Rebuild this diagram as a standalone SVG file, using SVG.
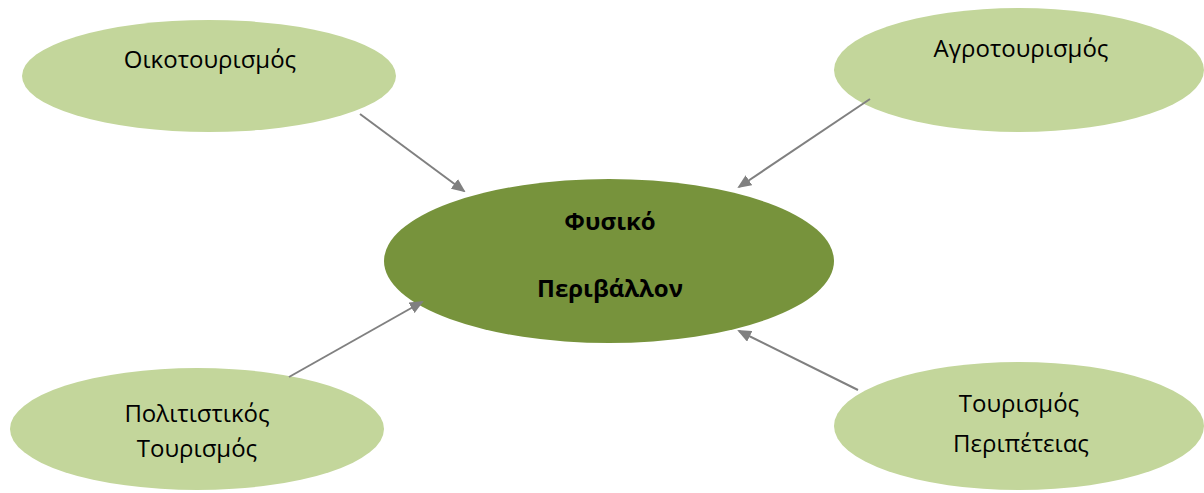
<svg xmlns="http://www.w3.org/2000/svg" width="1204" height="493" viewBox="0 0 1204 493">
<style>
.sat{fill:#C3D69B}
.core{fill:#77933C}
.t{font-family:"Open Sans","Liberation Sans",sans-serif;font-size:24px;fill:#000;text-anchor:middle}
.b{font-weight:bold}
.c{stroke:#808080;stroke-width:2;fill:none;marker-end:url(#ah)}
</style>
<defs>
<marker id="ah" markerWidth="14" markerHeight="12" refX="12" refY="6" orient="auto" markerUnits="userSpaceOnUse" viewBox="0 0 14 12">
<path d="M0,0 L14,6 L0,12 z" fill="#808080"/>
</marker>
</defs>
<rect width="1204" height="493" fill="#fff"/>
<g id="n1"><ellipse class="sat" cx="209" cy="76" rx="187" ry="56"/><text class="t" x="210" y="68">Οικοτουρισμός</text></g>
<g id="n2"><ellipse class="sat" cx="1019" cy="70" rx="185" ry="62"/><text class="t" x="1021" y="57">Αγροτουρισμός</text></g>
<g id="n3"><ellipse class="sat" cx="197" cy="429" rx="187" ry="61"/><text class="t" x="197" y="422">Πολιτιστικός</text><text class="t" x="197" y="457">Τουρισμός</text></g>
<g id="n4"><ellipse class="sat" cx="1019" cy="426" rx="185" ry="64"/><text class="t" x="1019" y="412">Τουρισμός</text><text class="t" x="1021" y="452">Περιπέτειας</text></g>
<g id="center"><ellipse class="core" cx="609" cy="261" rx="225" ry="82"/><text class="t b" x="610" y="230">Φυσικό</text><text class="t b" x="610" y="297">Περιβάλλον</text></g>
<g id="connectors">
<line class="c" x1="360" y1="114" x2="464" y2="191"/>
<line class="c" x1="870" y1="99" x2="739" y2="187"/>
<line class="c" x1="289" y1="377" x2="422" y2="302"/>
<line class="c" x1="858" y1="390" x2="739" y2="331"/>
</g>
</svg>
